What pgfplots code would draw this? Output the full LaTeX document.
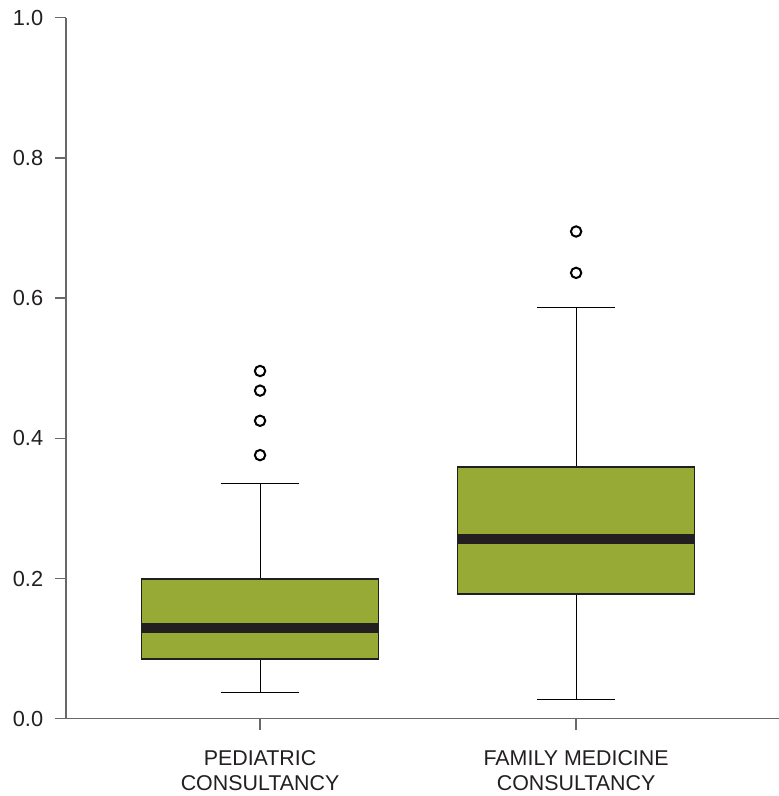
\documentclass[border=0pt]{standalone}
\usepackage{pgfplots}
\pgfplotsset{compat=1.18}
\usepgfplotslibrary{statistics}
\usepackage{fontspec}
\setmainfont{Liberation Sans}
\definecolor{boxgreen}{RGB}{151,170,53}
\definecolor{axisgray}{RGB}{105,105,105}
\definecolor{txt}{RGB}{35,31,32}
\begin{document}
\begin{tikzpicture}
\begin{axis}[
  scale only axis, width=356.5pt, height=350.5pt,
  xmin=0.386, xmax=2.642, ymin=0, ymax=1,
  boxplot/draw direction=y,
  axis x line*=bottom, axis y line*=left,
  axis line style={axisgray, line width=0.7pt, -},
  tick style={axisgray, line width=0.7pt},
  tick align=outside, major tick length=5.5pt,
  ytick={0,0.2,0.4,0.6,0.8,1.0},
  yticklabel style={/pgf/number format/fixed, /pgf/number format/fixed zerofill, /pgf/number format/precision=1},
  xtick={1,2},
  xticklabels={{PEDIATRIC\\CONSULTANCY},{FAMILY MEDICINE\\CONSULTANCY}},
  xticklabel style={align=center, font=\fontsize{10.7}{12.35}\selectfont, yshift=-7pt},
  yticklabel style={font=\fontsize{10.9}{12}\selectfont, xshift=-2.4pt},
  tick label style={text=txt},
  /pgf/number format/assume math mode=true,
  clip=false,
]
\coordinate (sw) at (rel axis cs:0,0);
\coordinate (ne) at (rel axis cs:1,1);
\addplot[draw=txt, fill=boxgreen, line width=0.5pt,
  mark=o, mark size=2.6pt, mark options={draw=black, line width=1pt, fill=none, solid},
  boxplot prepared={draw position=1, lower whisker=0.037, lower quartile=0.085,
    median=0.129, upper quartile=0.199, upper whisker=0.336,
    box extend=0.75, whisker extend=0.246,
    every box/.style={line width=0.75pt, draw=txt, fill=boxgreen},
    every whisker/.style={line width=0.5pt, draw=black},
    every median/.style={line width=5pt, draw=txt}}]
  coordinates {(0,0.376) (0,0.425) (0,0.468) (0,0.496)};
\addplot[draw=txt, fill=boxgreen, line width=0.5pt,
  mark=o, mark size=2.6pt, mark options={draw=black, line width=1pt, fill=none, solid},
  boxplot prepared={draw position=2, lower whisker=0.028, lower quartile=0.178,
    median=0.256, upper quartile=0.359, upper whisker=0.586,
    box extend=0.75, whisker extend=0.246,
    every box/.style={line width=0.75pt, draw=txt, fill=boxgreen},
    every whisker/.style={line width=0.5pt, draw=black},
    every median/.style={line width=5pt, draw=txt}}]
  coordinates {(0,0.636) (0,0.695)};
\end{axis}
\pgfresetboundingbox
\path[use as bounding box] ([xshift=-33pt,yshift=-38.65pt]sw) rectangle ([yshift=8.85pt]ne);
\end{tikzpicture}
\end{document}
